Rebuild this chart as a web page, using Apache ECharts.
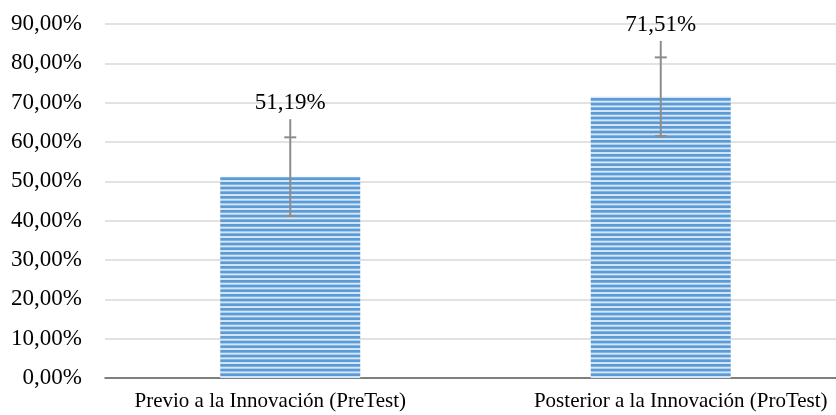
<!DOCTYPE html>
<html><head><meta charset="utf-8">
<script src="https://cdn.jsdelivr.net/npm/echarts@6/dist/echarts.min.js"></script>
<style>html,body{margin:0;padding:0;background:#fff}#c{width:836px;height:415px}</style>
</head><body><div id="c"></div>
<script>
var categories = ['Previo a la Innovación (PreTest)', 'Posterior a la Innovación (ProTest)'];
var values = [51.19, 71.51];
var errLow = [41.19, 61.51];
var errCapHigh = [61.19, 81.51];
var errLineTop = [65.8, 85.7];
var valueLabels = ['51,19%', '71,51%'];
var yMin = 0, yMax = 90, yStep = 10;

var pat = document.createElement('canvas');
pat.width = 8; pat.height = 14;
var g = pat.getContext('2d');
g.fillStyle = '#d6e6f6'; g.fillRect(0, 0, 8, 14);
g.fillStyle = '#5b9bd5';
for (var k = 0; k < 3; k++) { g.fillRect(0, k * 14 / 3, 8, 2.7); }

var font = '"Liberation Serif", "Times New Roman", serif';
var catLabelShift = [-20, 20];
var idx = categories.map(function (c, i) { return i; });
var barData = idx.map(function (i) { return [i, values[i]]; });
var errData = idx.map(function (i) { return [i, errLow[i], errCapHigh[i], errLineTop[i]]; });
var lblData = idx.map(function (i) { return [i, errLineTop[i]]; });
var catData = idx.map(function (i) { return [i, yMin]; });

var chart = echarts.init(document.getElementById('c'));
chart.setOption({
  animation: false,
  grid: { left: 105, right: 0, top: 24, height: 354, containLabel: false },
  xAxis: {
    type: 'value', min: -0.5, max: 1.473,
    splitLine: { show: false },
    axisLine: { onZero: false, lineStyle: { color: '#5f5f5f', width: 1.5 } },
    axisTick: { show: false },
    axisLabel: { show: false }
  },
  yAxis: {
    type: 'value', min: yMin, max: yMax, interval: yStep,
    axisLine: { show: false }, axisTick: { show: false },
    splitLine: { lineStyle: { color: '#d9d9d9', width: 1.5 } },
    axisLabel: { color: '#000', fontFamily: font, fontSize: 23, margin: 23,
      formatter: function (v) { return v.toFixed(2).replace('.', ',') + '%'; } }
  },
  series: [
    { type: 'bar', data: barData, barWidth: 140,
      itemStyle: { color: { image: pat, repeat: 'repeat' } } },
    { type: 'custom', data: errData, z: 5,
      encode: { x: 0, y: [1, 2, 3] },
      renderItem: function (params, api) {
        var x = api.coord([api.value(0), 0])[0];
        var yl = api.coord([api.value(0), api.value(1)])[1];
        var yc = api.coord([api.value(0), api.value(2)])[1];
        var yt = api.coord([api.value(0), api.value(3)])[1];
        var st = { stroke: '#8c8c8c', lineWidth: 2 };
        return { type: 'group', children: [
          { type: 'line', shape: { x1: x, y1: yl, x2: x, y2: yt }, style: st },
          { type: 'line', shape: { x1: x - 6, y1: yl, x2: x + 6, y2: yl }, style: st },
          { type: 'line', shape: { x1: x - 6, y1: yc, x2: x + 6, y2: yc }, style: st }
        ] };
      } },
    { type: 'custom', data: lblData, z: 6,
      encode: { x: 0, y: 1 },
      renderItem: function (params, api) {
        var p = api.coord([api.value(0), api.value(1)]);
        return { type: 'text', style: { x: p[0], y: p[1] - 16, text: valueLabels[params.dataIndex],
          fill: '#000', font: '23px ' + font, textAlign: 'center', textVerticalAlign: 'middle' } };
      } },
    { type: 'custom', data: catData, z: 6, clip: false, silent: true,
      encode: { x: 0, y: 1 },
      renderItem: function (params, api) {
        var p = api.coord([api.value(0), api.value(1)]);
        return { type: 'text', style: { x: p[0] + catLabelShift[params.dataIndex], y: p[1] + 23,
          text: categories[params.dataIndex], fill: '#000', font: '21px ' + font,
          textAlign: 'center', textVerticalAlign: 'middle' } };
      } }
  ]
});
</script></body></html>
